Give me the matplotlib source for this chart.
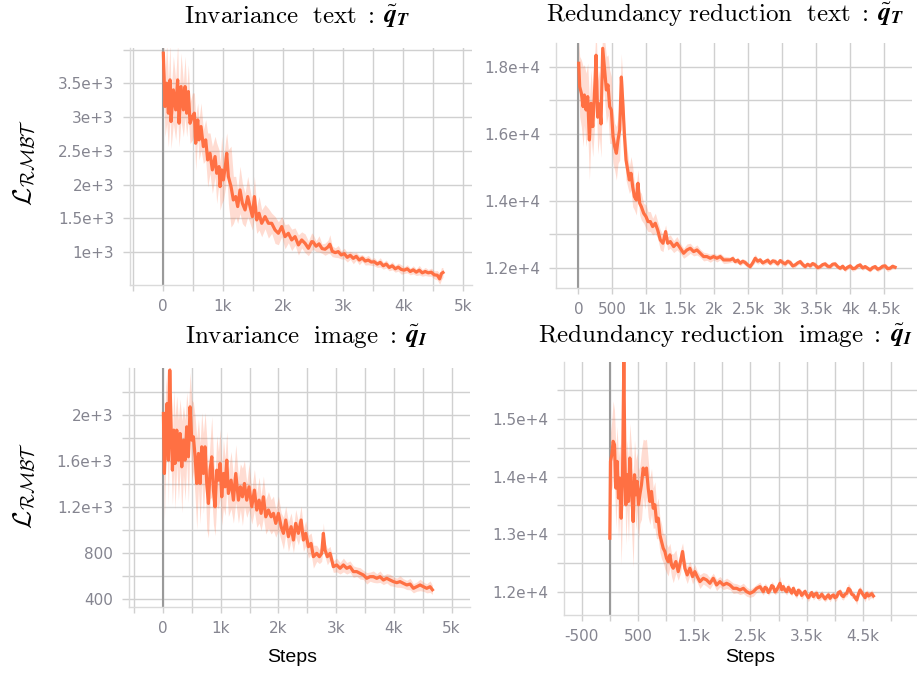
import matplotlib
matplotlib.use("Agg")
import matplotlib.pyplot as plt
import numpy as np

plt.rcParams['mathtext.fontset'] = 'cm'

# ---------------- data ----------------
steps_inv_text = [5, 33, 61, 89, 117, 133, 172, 211, 244, 267,
                  300, 339, 367, 394, 422, 450, 489, 522, 544, 578,
                  600, 633, 672, 711, 744, 783, 822, 867, 894, 933,
                  950, 978, 1006, 1044, 1061, 1089, 1133, 1172, 1211, 1244,
                  1283, 1322, 1367, 1411, 1450, 1489, 1522, 1561, 1600, 1644,
                  1700, 1756, 1811, 1867, 1922, 1978, 2033, 2089, 2144, 2200,
                  2256, 2311, 2367, 2422, 2478,
                  2500, 2550, 2600, 2650, 2700, 2750, 2780, 2820, 2870, 2920,
                  2970, 3020, 3070, 3120, 3170, 3220, 3270, 3320, 3370, 3420,
                  3470, 3520, 3570, 3620, 3670, 3720, 3770, 3820, 3870, 3920,
                  3970, 4020, 4070, 4120, 4170, 4220, 4270, 4320, 4370, 4420,
                  4470, 4520, 4570, 4610, 4640, 4665]
loss_inv_text = [3948, 3157, 3503, 3058, 3552, 2934, 3404, 3107, 3552, 2909,
                 3453, 3107, 3453, 3058, 3379, 2909, 3008, 3058, 2612, 2959,
                 2662, 2860, 2563, 2662, 2365, 2464, 2217, 2415, 2167, 2266,
                 1969, 2217, 2068, 2316, 2464, 2118, 1969, 1771, 1821, 1673,
                 1920, 1722, 1623, 1821, 1673, 1524, 1821, 1475, 1574, 1425,
                 1524, 1425, 1425, 1326, 1277, 1376, 1227, 1277, 1178, 1227,
                 1104, 1178, 1128, 1054, 1153,
                 1150, 1085, 1120, 1050, 1040, 1075, 1115, 1010, 990, 1005,
                 955, 975, 920, 950, 905, 935, 880, 910, 865, 880,
                 850, 855, 820, 845, 795, 820, 770, 795, 750, 775,
                 740, 730, 750, 710, 735, 700, 730, 690, 710, 690,
                 700, 660, 655, 600, 680, 695]
spread_inv_text = [300, 450, 600, 500, 550, 400, 500, 450, 550, 350,
                   500, 400, 450, 350, 400, 300, 350, 300, 400, 250,
                   300, 350, 250, 300, 400, 300, 350, 300, 450, 250,
                   350, 500, 300, 350, 300, 400, 600, 350, 300, 250,
                   350, 300, 250, 300, 250, 200, 300, 200, 250, 200,
                   180, 220, 150, 200, 170, 150, 180, 140, 160, 130,
                   150, 120, 140, 110, 130,
                   110, 80, 120, 70, 90, 100, 140, 80, 70, 90,
                   60, 80, 70, 60, 80, 60, 70, 50, 60, 70,
                   50, 60, 50, 70, 50, 60, 50, 60, 50, 60,
                   70, 50, 60, 50, 60, 50, 70, 50, 60, 50,
                   60, 60, 70, 80, 90, 70]

steps_red_text = [5, 19, 44, 69, 88, 113, 137, 162, 186, 211,
                  235, 260, 284, 309, 333, 358, 382, 412, 436, 460,
                  485, 510, 534, 559, 583, 608, 632, 657, 676, 701,
                  725, 750, 775, 799, 824, 853, 877, 902, 926, 961,
                  995, 1025, 1059, 1093, 1132, 1167, 1206, 1245, 1284, 1314,
                  1353, 1402, 1451, 1500, 1549, 1598, 1647, 1696, 1745, 1794,
                  1843, 1892, 1941, 1990, 2039, 2088, 2137, 2186,
                  2235, 2272, 2309, 2345, 2382, 2419, 2456, 2492, 2529,
                  2566, 2603, 2640, 2676, 2713, 2750, 2787, 2824, 2860, 2897,
                  2934, 2971, 3008, 3044, 3081, 3118, 3155, 3191, 3228, 3265,
                  3302, 3338, 3375, 3412, 3448, 3485, 3522, 3559, 3596, 3632,
                  3669, 3706, 3742, 3779, 3816, 3853, 3890, 3926, 3963, 4000,
                  4036, 4073, 4110, 4147, 4184, 4221, 4257, 4294, 4331, 4368,
                  4404, 4441, 4478, 4515, 4551, 4588, 4625, 4662]
loss_red_text = [18110, 17413, 17214, 16816, 17164, 16717, 17115, 15821, 16916, 16219,
                 17115, 18350, 16500, 16900, 16300, 18557, 18010, 17314, 17463, 16816,
                 16717, 15921, 15622, 15423, 15821, 16120, 17700, 16816, 16020, 15224,
                 14926, 14627, 14826, 14428, 14130, 14030, 14528, 13931, 13831, 13632,
                 13533, 13383, 13383, 13234, 13334, 13134, 12836, 12737, 13085, 12737,
                 12786, 12637, 12737, 12587, 12438, 12537, 12587, 12488, 12537, 12438,
                 12339, 12339, 12289, 12339, 12289, 12339, 12239, 12239,
                 12239, 12280, 12189, 12230, 12140, 12200, 12159, 12090, 12040,
                 12150, 12289, 12200, 12239, 12150, 12189, 12230, 12140, 12210, 12189,
                 12120, 12219, 12160, 12120, 12200, 12159, 12060, 12090, 12150, 12189,
                 12100, 12040, 12110, 12060, 12130, 12090, 12010, 12040, 12100, 12120,
                 12050, 12040, 12110, 12120, 12040, 11990, 12050, 11960, 12020, 12060,
                 11980, 11990, 12060, 12090, 12000, 12040, 11990, 11940, 12010, 12040,
                 11960, 11990, 12050, 12060, 11980, 11990, 12050, 12020]
spread_red_text = [700, 900, 1000, 1200, 900, 1100, 1000, 1200, 1000, 900,
                   1000, 900, 1100, 1000, 1000, 800, 900, 1000, 900, 1100,
                   1000, 800, 700, 800, 700, 900, 700, 600, 500, 600,
                   500, 400, 500, 600, 400, 450, 400, 350, 400, 300,
                   350, 300, 300, 250, 300, 250, 300, 250, 200, 200,
                   200, 180, 200, 150, 150, 180, 150, 130, 150, 120,
                   130, 110, 120, 100, 110, 100, 110, 100,
                   80, 100, 70, 90, 80, 70, 90, 80, 70,
                   80, 120, 90, 80, 70, 80, 90, 70, 80, 90,
                   80, 70, 100, 80, 70, 90, 80, 70, 60, 80,
                   90, 70, 60, 80, 70, 90, 70, 60, 70, 80,
                   80, 60, 70, 80, 70, 60, 70, 80, 60, 70,
                   80, 60, 70, 80, 70, 60, 70, 60, 60, 70,
                   80, 60, 70, 80, 90, 60, 70, 60]

steps_inv_img = [6, 23, 46, 69, 92, 116, 139, 162, 185, 208,
                 237, 266, 295, 324, 353, 382, 410, 439, 468, 497,
                 526, 555, 584, 613, 642, 670, 699, 728, 757, 786,
                 815, 844, 873, 901, 930, 959, 988, 1017, 1046, 1075,
                 1104, 1132, 1179, 1219, 1260, 1306, 1340, 1375, 1410, 1450,
                 1490, 1537, 1583, 1624, 1664, 1699, 1739, 1780, 1826, 1872,
                 1913, 1953, 1999, 2046, 2086, 2126, 2172, 2219, 2259, 2299,
                 2345, 2392, 2432, 2472, 2519, 2565, 2605,
                 2663, 2709, 2749, 2778, 2807, 2847, 2894, 2923, 2951, 3009,
                 3067, 3125, 3183, 3240, 3298, 3356, 3414, 3471, 3529, 3587,
                 3645, 3703, 3760, 3818, 3876, 3934, 3992, 4050, 4107, 4165,
                 4223, 4281, 4338, 4396, 4454, 4512, 4569, 4627, 4668]
loss_inv_img = [2014, 1492, 1898, 2101, 1608, 2391, 1898, 1521, 1869, 1579,
                1869, 1608, 1840, 1550, 1782, 1608, 1898, 1637, 2072, 1782,
                1811, 1637, 1405, 1666, 1405, 1724, 1492, 1724, 1405, 1231,
                1521, 1637, 1347, 1202, 1521, 1434, 1579, 1289, 1492, 1376,
                1608, 1318, 1434, 1260, 1492, 1260, 1376, 1289, 1405, 1260,
                1376, 1202, 1347, 1174, 1260, 1145, 1289, 1115, 1174, 1115,
                1145, 1058, 1145, 1029, 971, 1087, 942, 1029, 913, 1058,
                971, 1087, 913, 971, 855, 884, 768,
                797, 768, 797, 971, 826, 768, 797, 739, 681, 696,
                667, 696, 667, 681, 638, 638, 623, 609, 580, 594,
                594, 580, 594, 565, 580, 565, 551, 542, 551, 536,
                522, 530, 493, 507, 522, 507, 493, 507, 480]
spread_inv_img = [200, 400, 350, 300, 400, 300, 350, 300, 350, 400,
                  300, 350, 300, 400, 300, 350, 300, 400, 300, 350,
                  300, 350, 400, 300, 350, 300, 350, 300, 400, 300,
                  250, 350, 300, 250, 300, 250, 300, 250, 300, 250,
                  250, 200, 250, 200, 250, 200, 200, 250, 200, 150,
                  200, 150, 180, 150, 200, 150, 180, 150, 160, 150,
                  150, 120, 150, 120, 140, 120, 130, 120, 110, 120,
                  100, 120, 100, 110, 100, 90, 100,
                  70, 60, 70, 90, 60, 70, 60, 60, 50, 60,
                  50, 60, 50, 50, 50, 40, 50, 40, 50, 40,
                  50, 40, 50, 40, 40, 50, 40, 40, 50, 40,
                  40, 50, 40, 40, 50, 40, 40, 50, 40]

steps_red_img = [0, 12, 36, 59, 83, 107, 130, 154, 178, 202,
                 225, 249, 267, 285, 308, 332, 356, 385, 415, 439,
                 463, 486, 510, 534, 563, 593, 623, 652, 682, 712,
                 741, 771, 801, 830, 860, 890, 919, 949, 979, 1008,
                 1038, 1068, 1097, 1127, 1174, 1216, 1257, 1293, 1334, 1376,
                 1423, 1471, 1512, 1554, 1601, 1661, 1720, 1779, 1839, 1898,
                 1957, 2017, 2076, 2135, 2195, 2254, 2313, 2373, 2432, 2491,
                 2551, 2610, 2669,
                 2728, 2758, 2788, 2818, 2847, 2877, 2906, 2936, 2966, 2995,
                 3025, 3055, 3084, 3114, 3144, 3173, 3203, 3233, 3262, 3292,
                 3322, 3351, 3381, 3410, 3440, 3470, 3499, 3529, 3559, 3588,
                 3618, 3648, 3677, 3707, 3737, 3766, 3796, 3826, 3855, 3885,
                 3915, 3944, 3974, 4003, 4033, 4063, 4093, 4122, 4152, 4181,
                 4211, 4241, 4270, 4300, 4330, 4359, 4389, 4418, 4448, 4478,
                 4508, 4537, 4567, 4596, 4626, 4655, 4685]
loss_red_img = [12933, 14266, 14382, 14614, 14556, 13802, 14266, 13628, 13976, 13280,
                13918, 16005, 14382, 13512, 14034, 13570, 14324, 13802, 13222, 14034,
                13686, 13918, 13512, 13686, 13860, 14150, 14034, 14150, 13802, 13570,
                13744, 13454, 13512, 13222, 13280, 12991, 12875, 12759, 12701, 12585,
                12527, 12643, 12469, 12411, 12527, 12353, 12527, 12701, 12411, 12295,
                12411, 12266, 12353, 12266, 12179, 12237, 12208, 12150, 12237, 12121,
                12179, 12121, 12150, 12121, 12063, 12063, 12034, 12063, 12005, 11976,
                12005, 12063, 12092,
                12005, 12080, 12063, 11990, 12034, 12110, 12092, 12000, 12034, 12090,
                12150, 12040, 12092, 12030, 12005, 12080, 12034, 11980, 12063, 11990,
                11947, 12030, 12005, 11940, 11976, 12010, 11947, 11900, 11947, 11990,
                11919, 11960, 11976, 11900, 11919, 11960, 11919, 11880, 11919, 11950,
                11889, 11930, 11947, 11900, 11919, 11990, 12005, 11940, 11919, 11960,
                11976, 12060, 12034, 11960, 11947, 11900, 11860, 11960, 12034, 11990,
                11947, 11900, 11976, 11930, 11947, 11970, 11930]
spread_red_img = [100, 500, 600, 700, 600, 700, 600, 700, 600, 800,
                  600, 900, 600, 700, 600, 700, 600, 700, 800, 600,
                  600, 500, 600, 500, 600, 500, 600, 500, 500, 400,
                  400, 350, 400, 300, 350, 300, 300, 250, 300, 250,
                  250, 200, 200, 250, 200, 150, 200, 150, 150, 150,
                  120, 130, 120, 100, 120, 100, 110, 100, 90, 100,
                  90, 80, 90, 80, 90, 80, 80, 90, 80, 70,
                  80, 70, 80,
                  60, 70, 60, 50, 60, 70, 60, 50, 60, 70,
                  120, 60, 70, 50, 60, 70, 60, 50, 60, 70,
                  60, 50, 60, 70, 60, 50, 60, 70, 60, 50,
                  60, 70, 60, 50, 60, 70, 60, 50, 60, 70,
                  60, 50, 60, 70, 60, 50, 60, 70, 60, 50,
                  60, 90, 60, 70, 60, 50, 80, 60, 70, 60,
                  60, 70, 60, 80, 60, 70, 60]

# tick values / labels
xt_k = [0, 1000, 2000, 3000, 4000, 5000]
xt_k_lab = ["0", "1k", "2k", "3k", "4k", "5k"]
xt_half = [0, 500, 1000, 1500, 2000, 2500, 3000, 3500, 4000, 4500]
xt_half_lab = ["0", "500", "1k", "1.5k", "2k", "2.5k", "3k", "3.5k", "4k", "4.5k"]
xt_odd = [-500, 500, 1500, 2500, 3500, 4500]
xt_odd_lab = ["-500", "500", "1.5k", "2.5k", "3.5k", "4.5k"]

yt_inv_text = [1000, 1500, 2000, 2500, 3000, 3500]
yt_inv_text_lab = ["1e+3", "1.5e+3", "2e+3", "2.5e+3", "3e+3", "3.5e+3"]
yt_red_text = [12000, 14000, 16000, 18000]
yt_red_text_lab = ["1.2e+4", "1.4e+4", "1.6e+4", "1.8e+4"]
yt_inv_img = [400, 800, 1200, 1600, 2000]
yt_inv_img_lab = ["400", "800", "1.2e+3", "1.6e+3", "2e+3"]
yt_red_img = [12000, 13000, 14000, 15000]
yt_red_img_lab = ["1.2e+4", "1.3e+4", "1.4e+4", "1.5e+4"]

title_words = [r"$\mathrm{Invariance\ \ text\ :}$",
               r"$\mathrm{Redundancy\ reduction\ \ text\ :}$",
               r"$\mathrm{Invariance\ \ image\ :}$",
               r"$\mathrm{Redundancy\ reduction\ \ image\ :}$"]
title_syms = [r"$\tilde{\mathbfit{q}}_{\mathbfit{T}}$", r"$\tilde{\mathbfit{q}}_{\mathbfit{T}}$",
              r"$\tilde{\mathbfit{q}}_{\mathbfit{I}}$", r"$\tilde{\mathbfit{q}}_{\mathbfit{I}}$"]

# ---------------- style ----------------
LINE = '#ff7043'
GRID = '#d0d0d0'
TICKC = '#858590'
ZERO = '#9a9a9a'

fig = plt.figure(figsize=(9.17, 6.75), dpi=100)

panels = [
    dict(rect=[0.1418, 0.5778, 0.3730, 0.3511], x=steps_inv_text, y=loss_inv_text, s=spread_inv_text,
         xlim=(-550, 5150), ylim=(510, 4025),
         xmaj=xt_k, xlab=xt_k_lab, xmin=[-500, 500, 1500, 2500, 3500, 4500],
         ymaj=yt_inv_text, ylab=yt_inv_text_lab, ymin=[4000]),
    dict(rect=[0.6063, 0.5733, 0.3882, 0.3630], x=steps_red_text, y=loss_red_text, s=spread_red_text,
         xlim=(-330, 4910), ylim=(11400, 18716),
         xmaj=xt_half, xlab=xt_half_lab, xmin=[],
         ymaj=yt_red_text, ylab=yt_red_text_lab, ymin=[13000, 15000, 17000]),
    dict(rect=[0.1407, 0.1007, 0.3719, 0.3540], x=steps_inv_img, y=loss_inv_img, s=spread_inv_img,
         xlim=(-590, 5320), ylim=(330, 2409),
         xmaj=xt_k, xlab=xt_k_lab, xmin=[-500, 500, 1500, 2500, 3500, 4500],
         ymaj=yt_inv_img, ylab=yt_inv_img_lab, ymin=[600, 1000, 1400, 1800, 2200]),
    dict(rect=[0.6150, 0.0889, 0.3850, 0.3748], x=steps_red_img, y=loss_red_img, s=spread_red_img,
         xlim=(-815, 5460), ylim=(11600, 15990),
         xmaj=xt_odd, xlab=xt_odd_lab, xmin=[0, 1000, 2000, 3000, 4000, 5000],
         ymaj=yt_red_img, ylab=yt_red_img_lab, ymin=[12500, 13500, 14500, 15500]),
]

for p in panels:
    ax = fig.add_axes(p['rect'])
    xs = np.array(p['x'], dtype=float)
    ys = np.array(p['y'], dtype=float)
    sp = np.array(p['s'], dtype=float)
    ax.fill_between(xs, ys - sp, ys + sp, color=LINE, alpha=0.24, lw=0, zorder=2)
    ax.plot(xs, ys, color=LINE, lw=2.3, zorder=3)
    ax.axvline(0, color=ZERO, lw=1.5, zorder=1.5)
    ax.set_xlim(*p['xlim'])
    ax.set_ylim(*p['ylim'])
    ax.set_xticks(p['xmaj'])
    ax.set_xticklabels(p['xlab'])
    ax.set_xticks(p['xmin'], minor=True)
    ax.set_yticks(p['ymaj'])
    ax.set_yticklabels(p['ylab'])
    ax.set_yticks(p['ymin'], minor=True)
    ax.grid(which='both', color=GRID, lw=1.0, zorder=0)
    ax.set_axisbelow(True)
    ax.tick_params(axis='y', which='both', length=5, width=1.0, color=GRID,
                   labelcolor=TICKC, labelsize=11, pad=6.5)
    ax.tick_params(axis='x', which='both', length=4, width=1.0, color=GRID,
                   labelcolor=TICKC, labelsize=11, pad=6)
    for lab in ax.get_xticklabels() + ax.get_yticklabels():
        lab.set_fontfamily('DejaVu Sans')
    for side in ['top', 'right']:
        ax.spines[side].set_visible(False)
    for side in ['left', 'bottom']:
        ax.spines[side].set_color('#dadada')
        ax.spines[side].set_linewidth(1.0)

# titles: words in Computer Modern, symbol in bold italic (STIX)
renderer = fig.canvas.get_renderer()
title_base = [(297, 23), (725, 21), (306, 343), (725, 342)]
for words, sym, (cx, by) in zip(title_words, title_syms, title_base):
    t1 = fig.text(0, 0, words, fontsize=18, ha='left', va='baseline',
                  transform=None)
    t2 = fig.text(0, 0, sym, fontsize=18.5, ha='left', va='baseline',
                  math_fontfamily='stix', transform=None)
    w1 = t1.get_window_extent(renderer).width
    w2 = t2.get_window_extent(renderer).width
    gap = 9
    total = w1 + gap + w2
    x0 = cx - total / 2
    ybase = 675 - by
    t1.set_position((x0, ybase))
    t2.set_position((x0 + w1 + gap, ybase))

# y labels
for ty in [1 - 163 / 675, 1 - 486 / 675]:
    fig.text(24 / 917, ty, r"$\mathcal{L}_{\mathcal{RMBT}}$", rotation=90,
             ha='center', va='center', fontsize=19, color='black')

# x labels
for tx in [292 / 917, 750 / 917]:
    fig.text(tx, 1 - 657 / 675, "Steps", ha='center', va='center', fontsize=14,
             family='Liberation Sans', color='black')

fig.savefig('out.png', dpi=100, facecolor='white')
